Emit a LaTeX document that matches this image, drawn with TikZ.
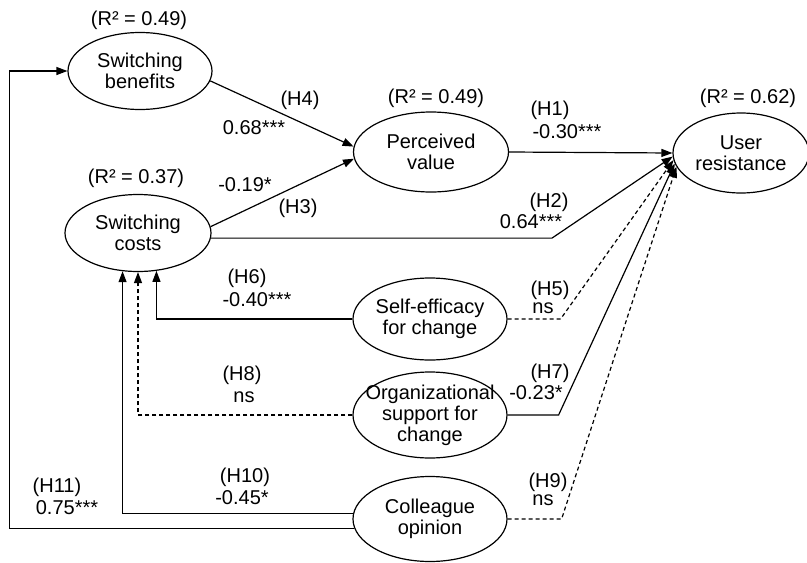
\documentclass[tikz,border=0pt]{standalone}
\usepackage{fontspec}
\setmainfont{Liberation Sans}
\usetikzlibrary{shapes.geometric,arrows.meta}

\begin{document}
\begin{tikzpicture}[x=1pt,y=-1pt,
    every node/.style={font=\fontsize{20}{21}\selectfont},
    construct/.style={draw, ellipse, line width=1.2pt, inner sep=0pt},
    txt/.style={align=center, inner sep=0pt},
    sig/.style={line width=1.2pt, -{Triangle[length=11pt,width=8pt]}},
    nsig/.style={sig, dash pattern=on 4pt off 3pt}]

          \useasboundingbox (0,0) rectangle (807,563);

          % Define the constructs
          \node[construct, minimum width=144pt, minimum height=77pt, label={[txt]center:{Switching\\benefits}}] (sb) at (140,71) {};
          \node[construct, minimum width=146pt, minimum height=77pt, label={[txt]center:{Switching\\costs}}] (sc) at (138,233) {};
          \node[construct, minimum width=155pt, minimum height=80pt, label={[txt]center:{Perceived\\value}}] (pv) at (431,152) {};
          \node[construct, minimum width=136pt, minimum height=80pt, label={[txt]center:{User\\resistance}}] (ur) at (741,153) {};
          \node[construct, minimum width=154pt, minimum height=82pt, label={[txt]center:{Self-efficacy\\for change}}] (se) at (430,319) {};
          \node[construct, minimum width=154pt, minimum height=86pt, label={[txt]center:{Organizational\\support for\\change}}] (os) at (430,415) {};
          \node[construct, minimum width=154pt, minimum height=85pt, label={[txt]center:{Colleague\\opinion}}] (co) at (430,519) {};

          % R-squared values
          \node (rsb) at (139,20) {(R² = 0.49)};
          \node (rsc) at (136,178) {(R² = 0.37)};
          \node (rpv) at (436,98) {(R² = 0.49)};
          \node (rur) at (748,98) {(R² = 0.62)};

          % Paths into perceived value and user resistance
          \draw[sig] (sb.-8) -- (pv.176);
          \draw[sig] (sc.5) -- (pv.185);
          \draw[sig] (pv.east) -- (ur.west);
          \draw[sig] (sc.-4) -- ++(341,0) -- (ur.183);
          \draw[nsig] (se.east) -- ++(53,0) -- (ur.186);
          \draw[sig] (os.east) -- ++(51,0) -- (ur.189);
          \draw[nsig] (co.east) -- ++(54,0) -- (ur.192);

          % Paths into switching costs and benefits
          \draw[sig] (se.west) -| (sc.-64);
          \draw[nsig] (os.west) -| (sc.south);
          \draw[sig] (co.176) -| (sc.-112);
          \draw[sig] (co.187) -| ([xshift=-58pt]sb.west) -- (sb.west);

          % Hypotheses and coefficients
          \node (h4) at (300,100) {(H4)};
          \node (c4) at (254,128) {0.68***};
          \node (c3) at (245,185) {-0.19*};
          \node (h3) at (298,208) {(H3)};
          \node (h1) at (550,110) {(H1)};
          \node (c1) at (567,132) {-0.30***};
          \node (h2) at (549,202) {(H2)};
          \node (c2) at (531,222) {0.64***};
          \node (h6) at (247,278) {(H6)};
          \node (c6) at (257,300) {-0.40***};
          \node (h8) at (242,375) {(H8)};
          \node (c8) at (244,397) {ns};
          \node (h10) at (245,477) {(H10)};
          \node (c10) at (242,498) {-0.45*};
          \node (h11) at (57,487) {(H11)};
          \node (c11) at (67,508) {0.75***};
          \node (h5) at (550,290) {(H5)};
          \node (c5) at (543,308) {ns};
          \node (h7) at (550,373) {(H7)};
          \node (c7) at (536,393) {-0.23*};
          \node (h9) at (548,482) {(H9)};
          \node (c9) at (543,500) {ns};

\end{tikzpicture}
\end{document}
